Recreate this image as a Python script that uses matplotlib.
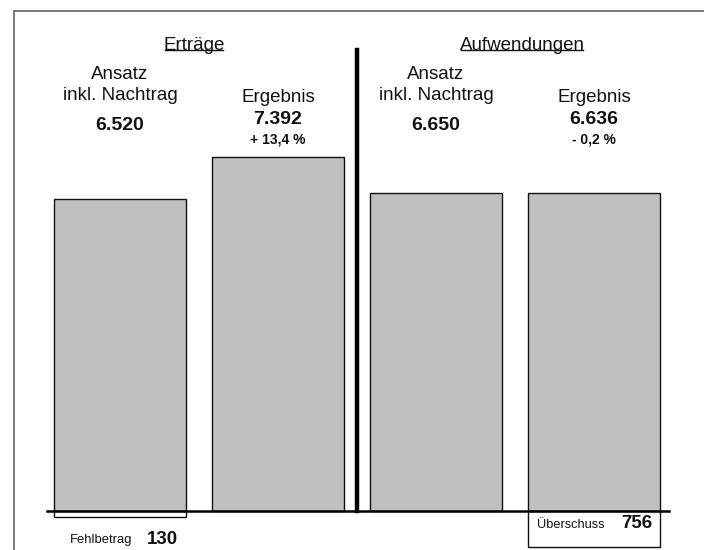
import matplotlib
matplotlib.use("Agg")
import matplotlib.pyplot as plt
from matplotlib.lines import Line2D

plt.rcParams["font.family"] = ["Liberation Sans", "DejaVu Sans"]

# Data (in thousand EUR)
groups = ["Erträge", "Aufwendungen"]
bar_titles = ["Ansatz\ninkl. Nachtrag", "Ergebnis", "Ansatz\ninkl. Nachtrag", "Ergebnis"]
values = [6520, 7392, 6650, 6636]

deficit = values[2] - values[0]   # planned deficit (Fehlbetrag)
surplus = values[1] - values[3]   # actual surplus (Überschuss)

W, H = 704, 550
fig = plt.figure(figsize=(W / 100, H / 100), dpi=100)
ax = fig.add_axes([0, 0, 1, 1])
ax.set_axis_off()

# Scale: baseline at 510.5 px from top, 0.04778 px per unit
base_px = 510.5
k = 0.04778
ax.set_ylim(-(H - base_px) / k, base_px / k)
x0_px, step_px = 120, 158
ax.set_xlim(-x0_px / step_px, (W - x0_px) / step_px)


def ydata(ypix):
    """Pixel row (from top) to data y."""
    return (base_px - ypix) / k


def fmt(v):
    return f"{v:,}".replace(",", ".")


def pct(new, old):
    p = (new - old) / old * 100
    sign = "+" if p >= 0 else "-"
    return f"{sign} {abs(p):.1f} %".replace(".", ",")


xs = list(range(len(values)))
bw = 132 / step_px

ax.bar(xs, values, width=bw, color="#c0c0c0", edgecolor="#111111", linewidth=1.0, zorder=2)

# Deficit and surplus boxes below the baseline
ax.bar([0], [-deficit], width=bw, color="white", edgecolor="#111111", linewidth=1.0, zorder=2)
ax.bar([3], [-surplus], width=bw, color="white", edgecolor="#111111", linewidth=1.0, zorder=2)

# Baseline and divider
ax.plot([(47 - x0_px) / step_px, (669 - x0_px) / step_px], [0, 0], color="black", lw=1.8, zorder=3)
ax.plot([1.5, 1.5], [0, ydata(50)], color="black", lw=3.2, zorder=3)

# Group headings (underlined)
fig.canvas.draw()
renderer = fig.canvas.get_renderer()
for gx, g in zip([0.47, 2.55], groups):
    t = ax.text(gx, ydata(45), g, ha="center", va="center", fontsize=13.5, color="#111111")
    bb = t.get_window_extent(renderer=renderer)
    inv = ax.transData.inverted()
    (xa, ya), (xb, yb) = inv.transform([(bb.x0 + 1, bb.y0 + 3), (bb.x1 - 2, bb.y0 + 3)])
    ax.plot([xa, xb], [ya, ya], color="#111111", lw=1.0)

# Bar captions
for i, (x, title, v) in enumerate(zip(xs, bar_titles, values)):
    if "\n" in title:
        l1, l2 = title.split("\n")
        ax.text(x, ydata(74), l1, ha="center", va="center", fontsize=13.5, color="#111111")
        ax.text(x, ydata(95), l2, ha="center", va="center", fontsize=13.5, color="#111111")
        ax.text(x, ydata(125), fmt(v), ha="center", va="center", fontsize=14, fontweight="bold", color="#111111")
    else:
        ax.text(x, ydata(97), title, ha="center", va="center", fontsize=13.5, color="#111111")
        ax.text(x, ydata(119), fmt(v), ha="center", va="center", fontsize=14, fontweight="bold", color="#111111")
        ax.text(x, ydata(139), pct(v, values[i - 1]), ha="center", va="center", fontsize=10,
                fontweight="bold", color="#111111")

# Deficit / surplus labels
ax.text((101 - x0_px) / step_px, ydata(540), "Fehlbetrag", ha="center", va="center", fontsize=9.4, color="#111111")
ax.text((162 - x0_px) / step_px, ydata(540), fmt(deficit), ha="center", va="center", fontsize=13.5,
        fontweight="bold", color="#111111")
ax.text((571 - x0_px) / step_px, ydata(525), "Überschuss", ha="center", va="center", fontsize=9.2, color="#111111")
ax.text((637 - x0_px) / step_px, ydata(524), fmt(surplus), ha="center", va="center", fontsize=13.5,
        fontweight="bold", color="#111111")

# Outer frame (left and top edges)
fig.add_artist(Line2D([13.5 / W, 13.5 / W], [0, 1 - 11 / H], transform=fig.transFigure, color="#707070", lw=1.3))
fig.add_artist(Line2D([13.5 / W, 1], [1 - 11 / H, 1 - 11 / H], transform=fig.transFigure, color="#707070", lw=1.3))

fig.savefig("out.png", dpi=100)
